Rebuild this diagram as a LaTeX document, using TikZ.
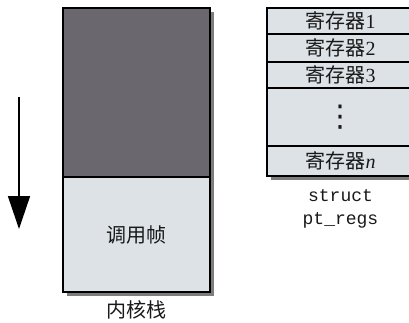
\documentclass[tikz,border=0pt]{standalone}
\usepackage{fontspec}
\setmainfont{Liberation Serif}
\setmonofont{Liberation Mono}
\newfontfamily\cjk{Noto Sans CJK SC}
\newfontfamily\symfont{DejaVu Sans}
\usetikzlibrary{arrows.meta,positioning,shadows}
\definecolor{stackdark}{RGB}{107,103,110}
\definecolor{boxlight}{RGB}{220,226,230}
\definecolor{shadowgray}{RGB}{125,125,125}
\tikzset{
  cellbox/.style={draw, line width=2.4pt, inner sep=0pt, outer sep=0pt,
    minimum width=147pt, text=black!90,
    drop shadow={shadow xshift=4pt, shadow yshift=-4pt, fill=shadowgray, opacity=1}},
  regbox/.style={cellbox, fill=boxlight, font=\fontsize{20}{20}\selectfont},
  capt/.style={text=black!90, inner sep=0pt}
}
\begin{document}
\begin{tikzpicture}[x=1pt, y=-1pt, line join=miter]
  \useasboundingbox (0,0) rectangle (409,322);
  % Kernel stack
  \node[cellbox, fill=stackdark, minimum height=169pt, anchor=north west] (stacktop) at (63,8) {};
  \node[regbox, minimum height=115pt, below=0pt of stacktop] (callframe) {\cjk 调用帧};
  \node[capt, font=\fontsize{20}{20}\selectfont, below=8pt of callframe] (stackname) {\cjk 内核栈};

  % Growth direction
  \coordinate (arrtop) at (19,97);
  \coordinate (arrbot) at (19,229);
  \draw[line width=1.5pt, -{Triangle[width=22pt, length=33pt]}] (arrtop) -- (arrbot);

  % struct pt_regs
  \node[regbox, minimum height=26pt, anchor=north west] (reg1) at (267,8) {{\cjk 寄存器}1};
  \node[regbox, minimum height=28pt, below=0pt of reg1] (reg2) {{\cjk 寄存器}2};
  \node[regbox, minimum height=26pt, below=0pt of reg2] (reg3) {{\cjk 寄存器}3};
  \node[regbox, minimum height=58pt, below=0pt of reg3,
        font=\fontsize{30}{30}\selectfont\symfont] (regdots) {⋮};
  \node[regbox, minimum height=30pt, below=0pt of regdots] (regn) {{\cjk 寄存器}\textit{n}};
  \node[capt, font=\fontsize{18}{23}\selectfont\ttfamily, align=center, below=13pt of regn] (structname) {struct\\pt\_regs};
\end{tikzpicture}
\end{document}
